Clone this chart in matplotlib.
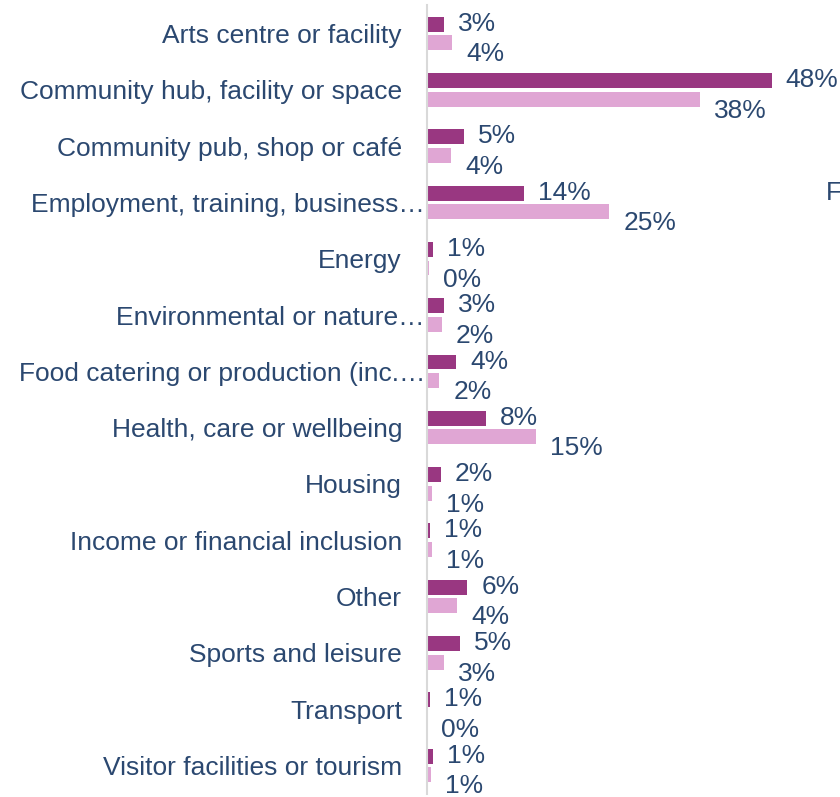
import matplotlib
matplotlib.use('Agg')
import matplotlib.pyplot as plt
import numpy as np

# categories, top to bottom
categories = [
    'Arts centre or facility',
    'Community hub, facility or space',
    'Community pub, shop or café',
    'Employment, training, business…',
    'Energy',
    'Environmental or nature…',
    'Food catering or production (inc.…',
    'Health, care or wellbeing',
    'Housing',
    'Income or financial inclusion',
    'Other',
    'Sports and leisure',
    'Transport',
    'Visitor facilities or tourism',
]

series_a = [2.5, 48.0, 5.2, 13.6, 0.9, 2.5, 4.1, 8.3, 2.0, 0.5, 5.7, 4.7, 0.5, 0.9]
series_b = [3.6, 38.0, 3.4, 25.4, 0.35, 2.1, 1.8, 15.2, 0.8, 0.8, 4.3, 2.5, 0.1, 0.6]
labels_a = ['3%', '48%', '5%', '14%', '1%', '3%', '4%', '8%', '2%', '1%', '6%', '5%', '1%', '1%']
labels_b = ['4%', '38%', '4%', '25%', '0%', '2%', '2%', '15%', '1%', '1%', '4%', '3%', '0%', '1%']

DARK = '#993781'
LIGHT = '#E0A6D4'
TEXT = '#2B4870'

plt.rcParams['font.family'] = ['Liberation Sans', 'DejaVu Sans']

fig = plt.figure(figsize=(8.4, 7.97), dpi=100)
ax = fig.add_axes([426.5 / 840, 1 - 793.6 / 797, 1 - 426.5 / 840, (793.6 - 5.35) / 797])

y = np.arange(len(categories))
h = 0.265
off = 0.165
ax.barh(y - off, series_a, height=h, color=DARK)
ax.barh(y + off, series_b, height=h, color=LIGHT)

# labels at the bar ends, light ones pushed a bit below their bar
for i in range(len(categories)):
    ax.annotate(labels_a[i], (series_a[i], y[i] - off), xytext=(14, -6.5),
                textcoords='offset pixels', va='baseline', ha='left',
                fontsize=19, color=TEXT, annotation_clip=False)
    ax.annotate(labels_b[i], (series_b[i], y[i] + off), xytext=(14, -18.5),
                textcoords='offset pixels', va='baseline', ha='left',
                fontsize=19, color=TEXT, annotation_clip=False)

# category names; truncated ones run their ellipsis up to the axis line
for i, name in enumerate(categories):
    pad = -1.5 if name.endswith('…') else -24.5
    ax.annotate(name, (0, y[i]), xycoords=('axes fraction', 'data'),
                xytext=(pad, 0), textcoords='offset pixels',
                ha='right', va='center_baseline', fontsize=19, color=TEXT,
                annotation_clip=False)

ax.set_xlim(0, (840 - 426.5) / 7.19)
ax.set_ylim(len(categories) - 0.5, -0.5)
ax.set_yticks([])
ax.set_xticks([])
for s in ['top', 'right', 'bottom']:
    ax.spines[s].set_visible(False)
ax.spines['left'].set_color('#D9D9D9')
ax.spines['left'].set_linewidth(1.5)
ax.spines['left'].set_zorder(3)

# cut-off text at the right edge
fig.text(826 / 840, 1 - 199.5 / 797, 'F', fontsize=19, color=TEXT, va='baseline', ha='left')

fig.savefig('out.png', dpi=100)
